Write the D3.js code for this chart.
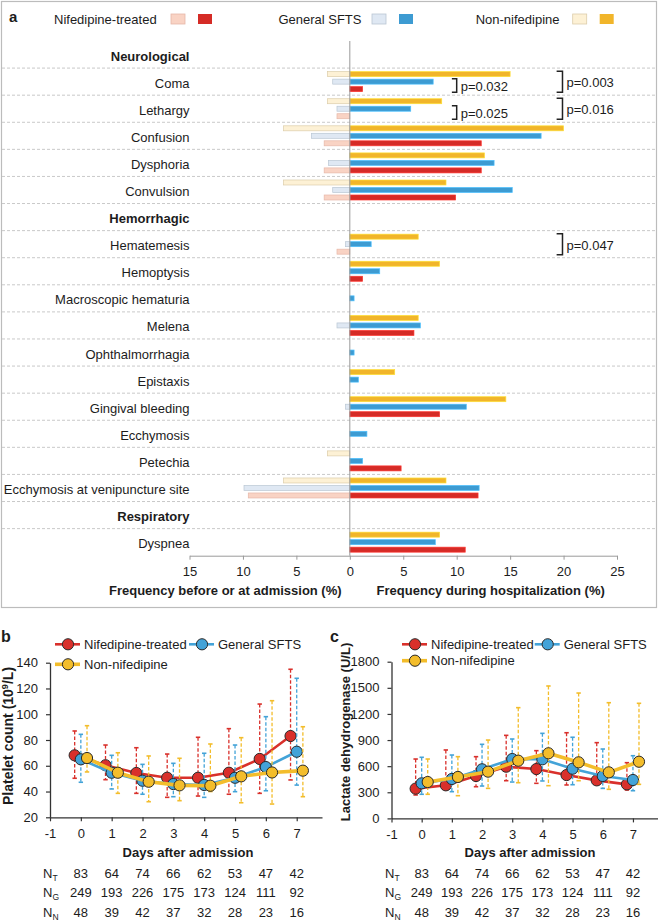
<!DOCTYPE html>
<html><head><meta charset="utf-8">
<script src="https://cdn.jsdelivr.net/npm/d3@7"></script>
<style>
body{margin:0;background:#fff;}
svg{display:block;font-family:"Liberation Sans",Arial,Helvetica,sans-serif;}
</style></head><body>
<svg id="chart" width="658" height="920"></svg>
<script>
// ---------- Panel a data ----------
const rowLabels = ["Neurological","Coma","Lethargy","Confusion","Dysphoria","Convulsion",
  "Hemorrhagic","Hematemesis","Hemoptysis","Macroscopic hematuria","Melena","Ophthalmorrhagia",
  "Epistaxis","Gingival bleeding","Ecchymosis","Petechia","Ecchymosis at venipuncture site",
  "Respiratory","Dyspnea"];
const headerRows = ["Neurological","Hemorrhagic","Respiratory"];
const symptoms = ["Coma","Lethargy","Confusion","Dysphoria","Convulsion","Hematemesis","Hemoptysis",
  "Macroscopic hematuria","Melena","Ophthalmorrhagia","Epistaxis","Gingival bleeding","Ecchymosis",
  "Petechia","Ecchymosis at venipuncture site","Dyspnea"];
// frequency during hospitalization (%)
const nifDuring = [1.2, 0, 12.3, 12.3, 9.9, 0, 1.2, 0, 6.0, 0, 0, 8.4, 0, 4.8, 12.0, 10.8];
const genDuring = [7.8, 5.7, 17.9, 13.5, 15.2, 2.0, 2.8, 0.4, 6.6, 0.4, 0.8, 10.9, 1.6, 1.2, 12.1, 8.0];
const nonDuring = [15.0, 8.6, 20.0, 12.6, 9.0, 6.4, 8.4, 0, 6.4, 0, 4.2, 14.6, 0, 0, 9.0, 8.4];
// frequency before or at admission (%)
const nifBefore = [0, 1.2, 2.4, 2.4, 2.4, 1.2, 0, 0, 0, 0, 0, 0, 0, 0, 9.5, 0];
const genBefore = [1.6, 1.2, 3.6, 2.0, 1.6, 0.4, 0, 0, 1.2, 0, 0, 0.4, 0, 0, 9.9, 0];
const nonBefore = [2.1, 2.1, 6.2, 0, 6.2, 0, 0, 0, 0, 0, 0, 0, 0, 2.1, 6.2, 0];
const freqTicks = [-15,-10,-5,0,5,10,15,20,25];
const pRows = ["Coma","Coma","Lethargy","Lethargy","Hematemesis"];
const pTop = ["gen","non","gen","non","non"];
const pLevel = ["inner","outer","inner","outer","outer"];
const pLabels = ["p=0.032","p=0.003","p=0.025","p=0.016","p=0.047"];

// ---------- Panels b, c data ----------
const days = [0,1,2,3,4,5,6,7];
const dayTicks = [-1,0,1,2,3,4,5,6,7];
const plNif   = [68.1, 60.4, 54.4, 50.7, 50.7, 54.6, 65.3, 83.1];
const plNifHi = [87.0, 76.1, 74.0, 69.1, 82.1, 88.8, 107.9, 134.9];
const plNifLo = [50.3, 49.2, 38.6, 35.5, 36.5, 37.9, 38.6, 49.0];
const plGen   = [65.0, 54.6, 48.4, 45.8, 45.1, 50.7, 59.0, 70.9];
const plGenHi = [84.4, 68.1, 61.1, 61.9, 69.7, 76.1, 98.1, 127.9];
const plGenLo = [47.2, 42.0, 37.9, 36.0, 35.5, 39.9, 40.6, 45.0];
const plNon   = [66.0, 54.6, 47.6, 44.8, 44.5, 51.8, 54.8, 56.2];
const plNonHi = [91.1, 70.1, 67.6, 65.8, 76.9, 81.8, 110.5, 90.3];
const plNonLo = [55.2, 38.6, 32.1, 32.9, 40.0, 31.3, 30.3, 36.0];
const plTicks = [20,40,60,80,100,120,140];

const ldNif   = [342, 380, 487, 594, 567, 498, 437, 391];
const ldNifHi = [682, 786, 709, 954, 778, 984, 870, 640];
const ldNifLo = [269, 353, 364, 433, 403, 384, 391, 326];
const ldGen   = [403, 453, 564, 682, 679, 571, 487, 441];
const ldGenHi = [702, 728, 851, 912, 977, 932, 797, 720];
const ldGenLo = [277, 307, 372, 418, 430, 387, 345, 318];
const ldNon   = [418, 476, 537, 663, 748, 644, 529, 651];
const ldNonHi = [682, 709, 900, 1272, 1521, 1440, 1329, 1322];
const ldNonLo = [277, 261, 345, 410, 376, 433, 334, 391];
const ldTicks = [0,300,600,900,1200,1500,1800];

const nT = [83,64,74,66,62,53,47,42];
const nG = [249,193,226,175,173,124,111,92];
const nN = [48,39,42,37,32,28,23,16];

const seriesNames = ["Nifedipine-treated","General SFTS","Non-nifedipine"];

// ---------- styles ----------
const TXT = "#1c1c1c";
const DARK = {nif:"#d52b26", gen:"#3d9bd2", non:"#f1b52a"};
const LIGHT = {nif:"#f9d3c4", gen:"#dfe8f3", non:"#fdf1d5"};
const LIGHTSTROKE = {nif:"#e6b7a8", gen:"#b9c6d3", non:"#dccdaa"};
const LINEC = {nif:"#d9302b", gen:"#43a3d8", non:"#f3bd2b"};

const svg = d3.select("#chart");

// ================= Panel a =================
const gA = svg.append("g");
gA.append("rect").attr("x",1.5).attr("y",1.5).attr("width",655).attr("height",606)
  .attr("fill","none").attr("stroke","#bcbcbc").attr("stroke-width",1.2);

const xA = d3.scaleLinear().domain([-15,25]).range([189.5,617]);
const yA = d3.scaleBand().domain(rowLabels).range([41,555.7]);
const sub = d3.scalePoint().domain(["non","gen","nif"]).range([-7.5,7.5]);
const barH = 5;
const rowC = d => yA(d) + yA.bandwidth()/2;

// dashed separators
gA.selectAll("line.sep").data(rowLabels.slice(1)).join("line")
  .attr("x1",2).attr("x2",656).attr("y1",d=>yA(d)).attr("y2",d=>yA(d))
  .attr("stroke","#c9c9c9").attr("stroke-dasharray","3,2").attr("stroke-width",1);

// legend a
gA.append("text").attr("x",9).attr("y",22).attr("font-weight","bold").attr("font-size",15).attr("fill",TXT).text("a");
const legA = [
  {k:"nif", name:seriesNames[0], tx:54, sx:171},
  {k:"gen", name:seriesNames[1], tx:278.4, sx:372},
  {k:"non", name:seriesNames[2], tx:475.7, sx:572.7}];
legA.forEach(l=>{
  gA.append("text").attr("x",l.tx).attr("y",24).attr("font-size",13).attr("fill",TXT).text(l.name);
  gA.append("rect").attr("x",l.sx).attr("y",14).attr("width",14).attr("height",10)
    .attr("fill",LIGHT[l.k]).attr("stroke",LIGHTSTROKE[l.k]).attr("stroke-width",0.8);
  gA.append("rect").attr("x",l.sx+27).attr("y",14).attr("width",14).attr("height",10)
    .attr("fill",DARK[l.k]);
});

// bars
const bars = [];
const sets = [
  {k:"non", during:nonDuring, before:nonBefore},
  {k:"gen", during:genDuring, before:genBefore},
  {k:"nif", during:nifDuring, before:nifBefore}];
symptoms.forEach((s,i)=>sets.forEach(se=>{
  if (se.during[i] > 0) bars.push({s, k:se.k, v:se.during[i], side:1});
  if (se.before[i] > 0) bars.push({s, k:se.k, v:se.before[i], side:-1});
}));
gA.selectAll("rect.bar").data(bars).join("rect")
  .attr("x", d => d.side>0 ? xA(0) : xA(-d.v))
  .attr("width", d => Math.abs(xA(d.v) - xA(0)))
  .attr("y", d => rowC(d.s) + sub(d.k) - barH/2)
  .attr("height", barH)
  .attr("fill", d => d.side>0 ? DARK[d.k] : LIGHT[d.k])
  .attr("stroke", d => d.side>0 ? d3.color(DARK[d.k]).brighter(0.6) : LIGHTSTROKE[d.k])
  .attr("stroke-width", 0.7);

// zero line
gA.append("line").attr("x1",xA(0)).attr("x2",xA(0)).attr("y1",41).attr("y2",555.7)
  .attr("stroke","#9a9a9a").attr("stroke-width",1);

// row labels
gA.selectAll("text.row").data(rowLabels).join("text")
  .attr("x", xA(-15)).attr("y", d => rowC(d) + 1.5)
  .attr("dy","0.35em").attr("text-anchor","end").attr("font-size",13).attr("fill",TXT)
  .attr("font-weight", d => headerRows.includes(d) ? "bold" : "normal")
  .text(d => d);

// axis a
const axA = gA.append("g").attr("transform","translate(0,555.7)")
  .call(d3.axisBottom(xA).tickValues(freqTicks).tickFormat(d=>String(Math.abs(d))).tickSize(4).tickPadding(7).tickSizeOuter(0));
axA.attr("font-family",null).attr("font-size",13);
axA.select(".domain").attr("stroke","#9a9a9a");
axA.selectAll(".tick line").attr("stroke","#9a9a9a");
axA.selectAll(".tick text").attr("fill",TXT);

gA.append("text").attr("x",341.6).attr("y",595).attr("text-anchor","end").attr("font-size",13)
  .attr("font-weight","bold").attr("fill",TXT).text("Frequency before or at admission (%)");
gA.append("text").attr("x",376.6).attr("y",595).attr("text-anchor","start").attr("font-size",13)
  .attr("font-weight","bold").attr("fill",TXT).text("Frequency during hospitalization (%)");

// p-value brackets
pRows.forEach((r,i)=>{
  const y1 = rowC(r) + sub(pTop[i]) - barH/2 - 0.5;
  const y2 = rowC(r) + sub("nif") + barH/2 + 0.5;
  const xv = pLevel[i]==="inner" ? xA(10) : xA(19.9);
  const xs = pLevel[i]==="inner" ? xA(9.55) : xA(19.35);
  gA.append("path").attr("d",`M${xs},${y1}H${xv}V${y2}H${xs}`)
    .attr("fill","none").attr("stroke","#222").attr("stroke-width",1.5);
  gA.append("text").attr("x",xv+4).attr("y",(y1+y2)/2+1).attr("dy","0.35em")
    .attr("font-size",13).attr("fill",TXT).text(pLabels[i]);
});

// ================= Panels b, c =================
function linePanel(cfg){
  const g = svg.append("g");
  const x = d3.scaleLinear().domain(cfg.xDom).range(cfg.xRange);
  const y = d3.scaleLinear().domain(cfg.yDom).range(cfg.yRange);
  const off = {nif:-0.2, gen:0, non:0.2};

  g.append("text").attr("x",cfg.letterX).attr("y",642).attr("font-weight","bold")
    .attr("font-size",16).attr("fill",TXT).text(cfg.letter);

  const ay = g.append("g").attr("transform",`translate(${x(-1)},0)`)
    .call(d3.axisLeft(y).tickValues(cfg.yTicks).tickFormat(d=>String(d)).tickSize(4).tickPadding(8).tickSizeOuter(0));
  const ax = g.append("g").attr("transform",`translate(0,${y(cfg.yDom[0])})`)
    .call(d3.axisBottom(x).tickValues(dayTicks).tickFormat(d=>String(d)).tickSize(4).tickPadding(7).tickSizeOuter(0));
  [ax,ay].forEach(a=>{
    a.attr("font-family",null).attr("font-size",13);
    a.select(".domain").attr("stroke","#333").attr("stroke-width",1.3);
    a.selectAll(".tick line").attr("stroke","#333").attr("stroke-width",1.2);
    a.selectAll(".tick text").attr("fill",TXT);
  });

  // y title
  const yt = g.append("text").attr("transform",`translate(${cfg.yTitleX},${cfg.yTitleY}) rotate(-90)`)
    .attr("text-anchor","middle").attr("font-weight","bold").attr("font-size",cfg.yTitleSize).attr("fill",TXT);
  cfg.yTitle.forEach(p=>{
    const t = yt.append("tspan").text(p.t);
    if (p.sup) t.attr("baseline-shift","super").attr("font-size",cfg.yTitleSize*0.65);
  });

  g.append("text").attr("x",cfg.xTitleX).attr("y",857).attr("text-anchor","middle")
    .attr("font-weight","bold").attr("font-size",13).attr("fill",TXT).text("Days after admission");

  // N rows
  const nrows = [{s:"T", v:nT, y:878},{s:"G", v:nG, y:897},{s:"N", v:nN, y:916.5}];
  nrows.forEach(nr=>{
    const t = g.append("text").attr("x",cfg.nX).attr("y",nr.y).attr("font-size",13).attr("fill",TXT);
    t.append("tspan").text("N");
    t.append("tspan").attr("font-size",8.5).attr("dy",3).text(nr.s);
    g.selectAll(null).data(days).join("text")
      .attr("x",d=>x(d)).attr("y",nr.y).attr("text-anchor","middle").attr("font-size",13)
      .attr("fill",TXT).text((d,i)=>nr.v[i]);
  });

  // series
  cfg.series.forEach(se=>{
    const pts = days.map((d,i)=>({x:x(d+off[se.k]), m:y(se.m[i]), hi:y(se.hi[i]), lo:y(se.lo[i])}));
    const eg = g.append("g");
    eg.selectAll("line.err").data(pts).join("line")
      .attr("x1",d=>d.x).attr("x2",d=>d.x).attr("y1",d=>d.hi).attr("y2",d=>d.lo)
      .attr("stroke",LINEC[se.k]).attr("stroke-width",1.3).attr("stroke-dasharray","3.5,2");
    ["hi","lo"].forEach(c=>{
      eg.selectAll(null).data(pts).join("line")
        .attr("x1",d=>d.x-2.2).attr("x2",d=>d.x+2.2).attr("y1",d=>d[c]).attr("y2",d=>d[c])
        .attr("stroke",LINEC[se.k]).attr("stroke-width",1.6);
    });
    g.append("path").datum(pts)
      .attr("d", d3.line().x(d=>d.x).y(d=>d.m))
      .attr("fill","none").attr("stroke",LINEC[se.k]).attr("stroke-width",se.k==="non"?3.6:2.6)
      .attr("stroke-linejoin","round");
    g.selectAll(null).data(pts).join("circle")
      .attr("cx",d=>d.x).attr("cy",d=>d.m).attr("r",5.6)
      .attr("fill",LINEC[se.k]).attr("stroke","#2a2a2a").attr("stroke-width",1);
  });

  // legend
  cfg.legend.forEach(l=>{
    g.append("line").attr("x1",l.x).attr("x2",l.x+25).attr("y1",l.y).attr("y2",l.y)
      .attr("stroke",LINEC[l.k]).attr("stroke-width",l.k==="non"?3.6:2.6);
    g.append("circle").attr("cx",l.x+13).attr("cy",l.y).attr("r",5.6)
      .attr("fill",LINEC[l.k]).attr("stroke","#2a2a2a").attr("stroke-width",1);
    g.append("text").attr("x",l.x+29).attr("y",l.y+4.6).attr("font-size",13).attr("fill",TXT).text(l.name);
  });
}

linePanel({
  letter:"b", letterX:1,
  xDom:[-1,7.82], xRange:[50,322],
  yDom:[20,140], yRange:[817.3,662.7], yTicks:plTicks,
  yTitle:[{t:"Platelet count (10"},{t:"9",sup:true},{t:"/L)"}], yTitleX:12.5, yTitleY:736, yTitleSize:14,
  xTitleX:188, nX:43,
  series:[
    {k:"nif", m:plNif, hi:plNifHi, lo:plNifLo},
    {k:"gen", m:plGen, hi:plGenHi, lo:plGenLo},
    {k:"non", m:plNon, hi:plNonHi, lo:plNonLo}],
  legend:[
    {k:"nif", name:seriesNames[0], x:55, y:644.3},
    {k:"gen", name:seriesNames[1], x:189, y:644.3},
    {k:"non", name:seriesNames[2], x:55, y:664.3}]
});

linePanel({
  letter:"c", letterX:330,
  xDom:[-1,7.83], xRange:[391.5,658],
  yDom:[0,1800], yRange:[818.4,661.7], yTicks:ldTicks,
  yTitle:[{t:"Lactate dehydrogenase (U/L)"}], yTitleX:349.5, yTitleY:732, yTitleSize:13,
  xTitleX:530, nX:385,
  series:[
    {k:"nif", m:ldNif, hi:ldNifHi, lo:ldNifLo},
    {k:"gen", m:ldGen, hi:ldGenHi, lo:ldGenLo},
    {k:"non", m:ldNon, hi:ldNonHi, lo:ldNonLo}],
  legend:[
    {k:"nif", name:seriesNames[0], x:402, y:644.3},
    {k:"gen", name:seriesNames[1], x:534.7, y:644.3},
    {k:"non", name:seriesNames[2], x:402, y:660.7}]
});
</script></body></html>
